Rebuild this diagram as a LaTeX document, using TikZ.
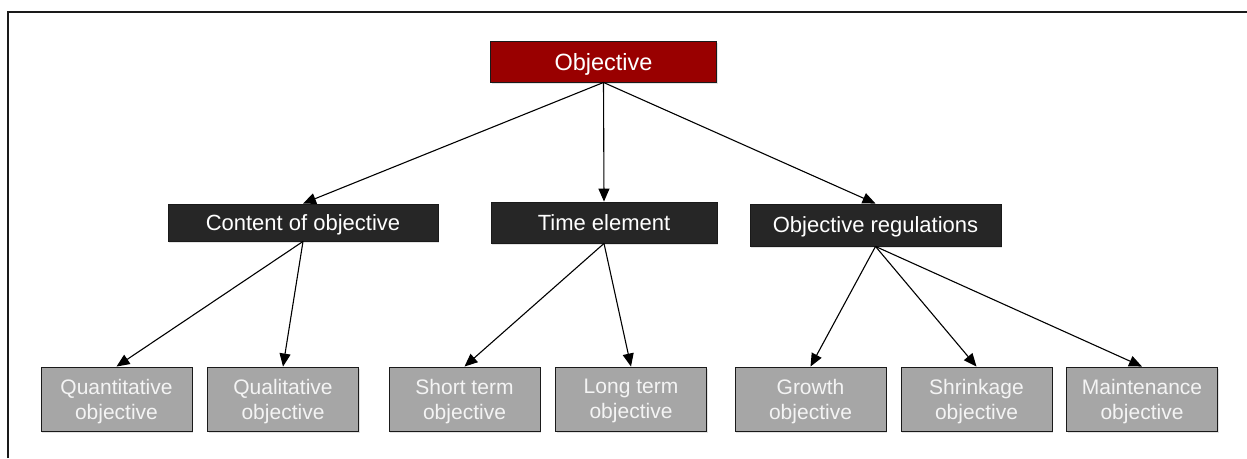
\documentclass[tikz,border=0pt]{standalone}
\usepackage{fontspec}
\setmainfont{Liberation Sans}
\usetikzlibrary{arrows.meta,shadows}
\definecolor{topred}{HTML}{990000}
\definecolor{midgray}{HTML}{262626}
\definecolor{lowgray}{HTML}{A6A6A6}
\definecolor{edgegray}{HTML}{1A1A1A}
\definecolor{lowtext}{HTML}{F4F4F4}
\begin{document}
\begin{tikzpicture}[x=1pt,y=-1pt,
  box/.style={draw=edgegray,line width=0.9pt,inner sep=0pt,align=center,text depth=0pt,
    drop shadow={opacity=0.22,shadow xshift=1pt,shadow yshift=-1.5pt}},
  rootbox/.style={box,fill=topred,text=white,font=\fontsize{23.5}{27}\selectfont},
  midbox/.style={box,fill=midgray,text=white,font=\fontsize{22}{26}\selectfont},
  leafbox/.style={box,fill=lowgray,text=lowtext,minimum width=151pt,minimum height=64pt,
    font=\fontsize{21}{25}\selectfont,execute at begin node={\vphantom{hl}}},
  link/.style={line width=1.1pt,-{Triangle[length=13pt,width=11pt]}}]
  \useasboundingbox (0,0) rectangle (1247,458);
  % open frame: top and left edges
  \draw[line width=1.4pt,edgegray] (8,458) -- (8,12) -- (1247,12);

  % root
  \node[rootbox,minimum width=226pt,minimum height=41pt] (obj) at (603.5,61.5) {Objective};

  % second level
  \node[midbox,minimum width=270pt,minimum height=37pt] (content) at (303,222.5) {Content of objective};
  \node[midbox,minimum width=226pt,minimum height=41pt] (time) at (604,222.5) {Time element};
  \node[midbox,minimum width=251pt,minimum height=42pt] (regs) at (875.5,225) {Objective regulations};

  % leaves
  \node[leafbox] (quant) at (116.5,399) {Quantitative\\objective};
  \node[leafbox] (qual)  at (283,399)   {Qualitative\\objective};
  \node[leafbox] (short) at (464.5,399) {Short term\\objective};
  \node[leafbox] (long)  at (631,399)   {Long term\\objective};
  \node[leafbox] (grow)  at (810.5,399) {Growth\\objective};
  \node[leafbox] (shrink) at (976.5,399) {Shrinkage\\objective};
  \node[leafbox] (maint) at (1142,399)  {Maintenance\\objective};

  % connectors
  \draw[link] (obj.south) -- (content.north);
  \draw[link] (obj.south) -- (time.north);
  \draw[link] (obj.south) -- (regs.north);
  \draw[link] (content.south) -- (quant.north);
  \draw[link] (content.south) -- (qual.north);
  \draw[link] (time.south) -- (short.north);
  \draw[link] (time.south) -- (long.north);
  \draw[link] (regs.south) -- (grow.north);
  \draw[link] (regs.south) -- (shrink.north);
  \draw[link] (regs.south) -- (maint.north);
\end{tikzpicture}
\end{document}
